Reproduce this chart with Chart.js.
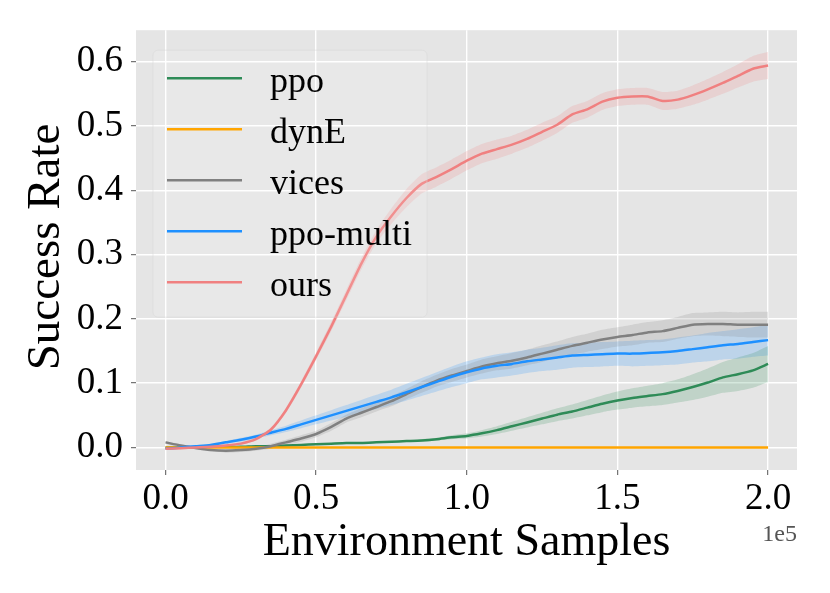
<!DOCTYPE html>
<html>
<head>
<meta charset="utf-8">
<title>Success Rate vs Environment Samples</title>
<script src="https://cdn.jsdelivr.net/npm/chart.js@4.4.1/dist/chart.umd.min.js"></script>
<style>
    html, body { margin: 0; padding: 0; background: #ffffff; }
    #chart { display: block; }
</style>
</head>
<body>
<canvas id="chart" width="830" height="593"></canvas>
<script>
// Sample positions along the x axis (environment samples)
const steps = [
    0, 5000, 10000, 15000, 20000, 25000, 30000, 35000, 40000, 45000,
    50000, 55000, 60000, 65000, 70000, 75000, 80000, 85000, 90000, 95000,
    100000, 105000, 110000, 115000, 120000, 125000, 130000, 135000, 140000, 145000,
    150000, 155000, 160000, 165000, 170000, 175000, 180000, 185000, 190000, 195000,
    200000
];

// Mean success rate per method
const ppoMean = [
    0.000, 0.000, 0.000, 0.001, 0.001, 0.001, 0.002, 0.002, 0.003, 0.004,
    0.005, 0.006, 0.007, 0.007, 0.008, 0.009, 0.010, 0.011, 0.013, 0.016,
    0.018, 0.022, 0.027, 0.033, 0.039, 0.045, 0.051, 0.056, 0.062, 0.068,
    0.073, 0.077, 0.080, 0.083, 0.088, 0.094, 0.101, 0.109, 0.114, 0.120,
    0.130
];
const dynEMean = [
    0, 0, 0, 0, 0, 0, 0, 0, 0, 0,
    0, 0, 0, 0, 0, 0, 0, 0, 0, 0,
    0, 0, 0, 0, 0, 0, 0, 0, 0, 0,
    0, 0, 0, 0, 0, 0, 0, 0, 0, 0,
    0
];
const vicesMean = [
    0.008, 0.003, -0.001, -0.004, -0.005, -0.004, -0.002, 0.002, 0.008, 0.014,
    0.021, 0.032, 0.045, 0.054, 0.063, 0.072, 0.083, 0.094, 0.104, 0.112,
    0.119, 0.126, 0.131, 0.135, 0.140, 0.146, 0.152, 0.158, 0.163, 0.168,
    0.172, 0.175, 0.179, 0.181, 0.186, 0.191, 0.192, 0.192, 0.191, 0.191,
    0.191
];
const ppoMultiMean = [
    -0.002, 0.000, 0.002, 0.004, 0.008, 0.012, 0.017, 0.023, 0.029, 0.036,
    0.043, 0.050, 0.057, 0.064, 0.071, 0.078, 0.086, 0.094, 0.102, 0.110,
    0.117, 0.123, 0.127, 0.130, 0.134, 0.137, 0.140, 0.143, 0.144, 0.145,
    0.146, 0.146, 0.147, 0.148, 0.150, 0.153, 0.156, 0.159, 0.161, 0.164,
    0.167
];
const oursMean = [
    -0.002, -0.001, 0.000, 0.001, 0.003, 0.006, 0.013, 0.028, 0.058, 0.098,
    0.142, 0.188, 0.237, 0.286, 0.328, 0.360, 0.388, 0.410, 0.421, 0.433,
    0.446, 0.457, 0.464, 0.471, 0.480, 0.491, 0.502, 0.518, 0.526, 0.538,
    0.544, 0.546, 0.546, 0.539, 0.541, 0.548, 0.557, 0.567, 0.578, 0.589,
    0.594
];

// Half-width of the shaded band around each mean
const ppoSpread = [
    0.001, 0.001, 0.001, 0.001, 0.001, 0.001, 0.001, 0.001, 0.001, 0.001,
    0.001, 0.001, 0.001, 0.001, 0.001, 0.001, 0.001, 0.002, 0.002, 0.003,
    0.004, 0.005, 0.006, 0.007, 0.008, 0.009, 0.010, 0.011, 0.012, 0.013,
    0.014, 0.015, 0.016, 0.017, 0.018, 0.020, 0.022, 0.024, 0.026, 0.027,
    0.028
];
const dynESpread = [
    0, 0, 0, 0, 0, 0, 0, 0, 0, 0,
    0, 0, 0, 0, 0, 0, 0, 0, 0, 0,
    0, 0, 0, 0, 0, 0, 0, 0, 0, 0,
    0, 0, 0, 0, 0, 0, 0, 0, 0, 0,
    0
];
const vicesSpread = [
    0.002, 0.002, 0.002, 0.002, 0.003, 0.003, 0.003, 0.004, 0.004, 0.005,
    0.005, 0.006, 0.006, 0.007, 0.007, 0.008, 0.008, 0.009, 0.009, 0.010,
    0.010, 0.011, 0.011, 0.012, 0.012, 0.013, 0.013, 0.014, 0.014, 0.015,
    0.015, 0.016, 0.016, 0.017, 0.017, 0.018, 0.018, 0.019, 0.019, 0.020,
    0.020
];
const ppoMultiSpread = [
    0.001, 0.001, 0.001, 0.002, 0.002, 0.003, 0.003, 0.004, 0.005, 0.006,
    0.007, 0.008, 0.009, 0.010, 0.011, 0.012, 0.013, 0.014, 0.015, 0.016,
    0.017, 0.017, 0.018, 0.018, 0.018, 0.018, 0.019, 0.019, 0.019, 0.019,
    0.019, 0.020, 0.020, 0.020, 0.021, 0.021, 0.022, 0.022, 0.023, 0.023,
    0.024
];
const oursSpread = [
    0.002, 0.002, 0.002, 0.002, 0.002, 0.002, 0.002, 0.003, 0.004, 0.005,
    0.006, 0.007, 0.008, 0.009, 0.010, 0.012, 0.014, 0.015, 0.015, 0.015,
    0.015, 0.015, 0.015, 0.014, 0.014, 0.014, 0.013, 0.013, 0.013, 0.013,
    0.013, 0.013, 0.013, 0.014, 0.014, 0.015, 0.016, 0.017, 0.018, 0.020,
    0.021
];

// Tick labels
const xTicks = [0, 50000, 100000, 150000, 200000];
const yTicks = [0, 0.1, 0.2, 0.3, 0.4, 0.5, 0.6];

const FONT = "'Liberation Serif', 'DejaVu Serif', serif";

const series = [
    { label: 'ppo', color: '#2e8b57', band: 'rgba(46,139,87,0.2)', mean: ppoMean, spread: ppoSpread },
    { label: 'dynE', color: '#ffa500', band: 'rgba(255,165,0,0.2)', mean: dynEMean, spread: dynESpread },
    { label: 'vices', color: '#808080', band: 'rgba(128,128,128,0.2)', mean: vicesMean, spread: vicesSpread },
    { label: 'ppo-multi', color: '#1e90ff', band: 'rgba(30,144,255,0.2)', mean: ppoMultiMean, spread: ppoMultiSpread },
    { label: 'ours', color: '#f08080', band: 'rgba(240,128,128,0.2)', mean: oursMean, spread: oursSpread }
];

function toPoints(values) {
    return steps.map((x, i) => ({ x: x, y: values[i] }));
}

// Build line datasets plus an upper/lower pair per band
const datasets = [];
series.forEach((s, k) => {
    datasets.push({
        label: s.label,
        isLine: true,
        data: toPoints(s.mean),
        borderColor: s.color,
        borderWidth: 2.5,
        pointRadius: 0,
        tension: 0.2,
        fill: false,
        order: series.length - k
    });
});
series.forEach(s => {
    if (s.spread.every(v => v === 0)) return;
    datasets.push({
        label: s.label + ' upper',
        data: toPoints(s.mean.map((m, i) => m + s.spread[i])),
        borderWidth: 0,
        borderColor: 'transparent',
        pointRadius: 0,
        tension: 0.2,
        fill: false,
        order: 20
    });
    datasets.push({
        label: s.label + ' lower',
        data: toPoints(s.mean.map((m, i) => m - s.spread[i])),
        borderWidth: 0,
        borderColor: 'transparent',
        backgroundColor: s.band,
        pointRadius: 0,
        tension: 0.2,
        fill: '-1',
        order: 20
    });
});

// Grey panel behind the plot area
const plotBackground = {
    id: 'plotBackground',
    beforeDraw(chart) {
        const { ctx, chartArea: a } = chart;
        ctx.save();
        ctx.fillStyle = '#e5e5e5';
        ctx.fillRect(a.left, a.top, a.right - a.left, a.bottom - a.top);
        ctx.restore();
    }
};

// Legend box in the upper left of the plot
const insideLegend = {
    id: 'insideLegend',
    afterDatasetsDraw(chart) {
        const { ctx, chartArea: a } = chart;
        const left = a.left + 17;
        const top = a.top + 20;
        ctx.save();
        ctx.beginPath();
        ctx.roundRect(left, top, 274, 267, 5);
        ctx.fillStyle = 'rgba(255,255,255,0.12)';
        ctx.fill();
        ctx.strokeStyle = 'rgba(215,215,215,0.5)';
        ctx.lineWidth = 1;
        ctx.stroke();
        const lines = chart.data.datasets.filter(d => d.isLine);
        lines.forEach((d, i) => {
            const y = top + 28 + i * 51;
            ctx.beginPath();
            ctx.moveTo(left + 14, y);
            ctx.lineTo(left + 89, y);
            ctx.strokeStyle = d.borderColor;
            ctx.lineWidth = 2.5;
            ctx.stroke();
            ctx.fillStyle = '#000000';
            ctx.font = '36px ' + FONT;
            ctx.textAlign = 'left';
            ctx.textBaseline = 'alphabetic';
            ctx.fillText(d.label, left + 117, y + 13.5);
        });
        ctx.restore();
    }
};

// Axis titles and the x offset label
const axisTitles = {
    id: 'axisTitles',
    afterDraw(chart) {
        const { ctx, chartArea: a } = chart;
        ctx.save();
        ctx.fillStyle = '#000000';
        ctx.font = '46px ' + FONT;
        ctx.textAlign = 'center';
        ctx.textBaseline = 'alphabetic';
        ctx.fillText('Environment Samples', (a.left + a.right) / 2, 555);
        ctx.font = '47px ' + FONT;
        ctx.translate(59, 247);
        ctx.rotate(-Math.PI / 2);
        ctx.fillText('Success Rate', 0, 0);
        ctx.restore();

        ctx.save();
        ctx.fillStyle = '#555555';
        ctx.font = '24px ' + FONT;
        ctx.textAlign = 'right';
        ctx.textBaseline = 'alphabetic';
        ctx.fillText('1e5', a.right, 541);
        ctx.restore();
    }
};

new Chart(document.getElementById('chart'), {
    type: 'line',
    data: { datasets: datasets },
    options: {
        responsive: false,
        animation: false,
        events: [],
        layout: { padding: { top: 30, right: 33, bottom: 0, left: 0 } },
        plugins: {
            legend: { display: false },
            tooltip: { enabled: false },
            filler: { propagate: false }
        },
        scales: {
            x: {
                type: 'linear',
                min: -9800,
                max: 209600,
                afterFit(scale) { scale.height = 123; },
                afterBuildTicks(scale) { scale.ticks = xTicks.map(v => ({ value: v })); },
                grid: { color: '#ffffff', lineWidth: 1.4, tickColor: '#555555', tickLength: 5, tickWidth: 1 },
                border: { display: false },
                ticks: {
                    color: '#000000',
                    font: { family: FONT, size: 37 },
                    padding: 2,
                    maxRotation: 0,
                    callback: v => (v / 1e5).toFixed(1)
                }
            },
            y: {
                type: 'linear',
                min: -0.035,
                max: 0.649,
                afterFit(scale) { scale.width = 136; },
                afterBuildTicks(scale) { scale.ticks = yTicks.map(v => ({ value: v })); },
                grid: { color: '#ffffff', lineWidth: 1.4, tickColor: '#555555', tickLength: 5, tickWidth: 1 },
                border: { display: false },
                ticks: {
                    color: '#000000',
                    font: { family: FONT, size: 37 },
                    padding: 8,
                    callback: v => v.toFixed(1)
                }
            }
        }
    },
    plugins: [plotBackground, insideLegend, axisTitles]
});
</script>
</body>
</html>
